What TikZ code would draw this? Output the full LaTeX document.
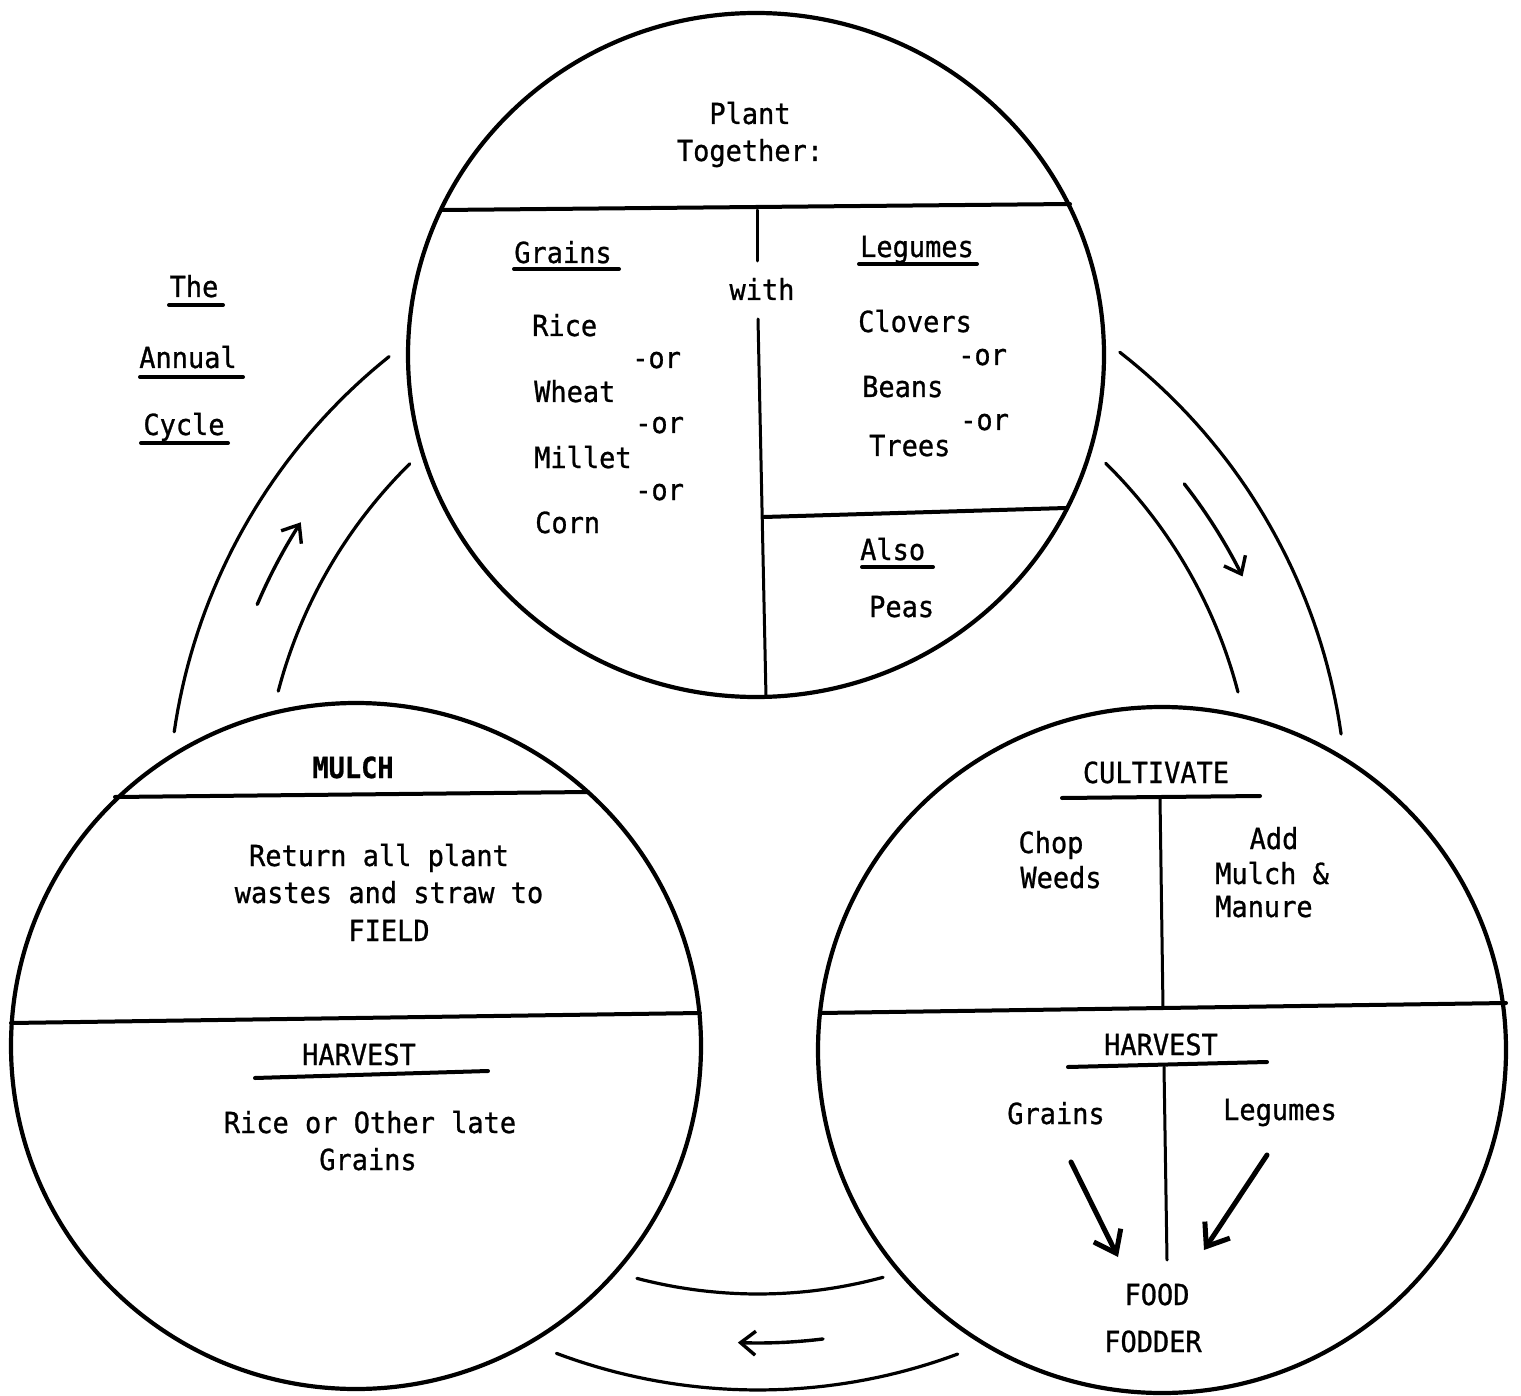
\documentclass[tikz,border=0pt]{standalone}
\usepackage{fontspec}
\newfontfamily\tw[FakeStretch=0.93,FakeBold=0.9]{DejaVu Sans Mono}
\usetikzlibrary{arrows.meta,shapes.geometric}
\begin{document}
\begin{tikzpicture}[x=1pt,y=-1pt,
  ring/.style={draw, line width=4.2pt, ellipse, inner sep=0pt},
  divider/.style={line width=4pt, line cap=round},
  thinline/.style={line width=3pt, line cap=round},
  arcline/.style={line width=3.2pt, line cap=round},
  uline/.style={line width=4pt, line cap=round},
  txt/.style={font=\tw\fontsize{29}{35}\selectfont, inner sep=0pt, anchor=base},
  txtl/.style={txt, anchor=base west},
  cyc/.style={line width=3.4pt, line cap=round, -{Straight Barb[length=15pt,width=24pt,line width=3.4pt]}},
  bigarrow/.style={line width=5pt, line cap=round, -{Straight Barb[length=20pt,width=30pt,line width=5pt]}}
]
\fill[white] (0,0) rectangle (1521,1396);
\useasboundingbox (0,0) rectangle (1521,1396);

% ---------- circles ----------
\node[ring, minimum width=696pt, minimum height=684pt] (topc) at (756,355) {};
\node[ring, minimum width=690pt, minimum height=686pt] (blc) at (356,1046) {};
\node[ring, minimum width=688pt, minimum height=686pt] (brc) at (1162,1050) {};

% ---------- cycle arcs (common centre) ----------
\coordinate (cc) at (758,817);
\draw[arcline] plot[domain=188.3:231.3, samples=40] ({758+590*cos(\x)},{817+590*sin(\x)});
\draw[arcline] plot[domain=194.7:225.4, samples=40] ({758+496*cos(\x)},{817+496*sin(\x)});
\draw[cyc] plot[domain=203:212.8, samples=20] ({758+544*cos(\x)},{817+544*sin(\x)});

\draw[arcline] plot[domain=307.9:351.9, samples=40] ({758+589*cos(\x)},{817+589*sin(\x)});
\draw[arcline] plot[domain=314.5:345.4, samples=40] ({758+496*cos(\x)},{817+496*sin(\x)});
\draw[cyc] plot[domain=322:333.6, samples=20] ({758+541*cos(\x)},{817+541*sin(\x)});

\draw[arcline] plot[domain=69.6:110.6, samples=40] ({758+573*cos(\x)},{817+573*sin(\x)});
\draw[arcline] plot[domain=74.8:104.7, samples=40] ({758+477*cos(\x)},{817+477*sin(\x)});
\draw[cyc] plot[domain=82.9:92.2, samples=20] ({758+526*cos(\x)},{817+526*sin(\x)});

% ---------- title ----------
\node[txt] (the) at (194,297) {The};
\node[txt] (annual) at (188,368) {Annual};
\node[txt] (cycle) at (184,435) {Cycle};
\draw[uline] (169,305) -- (223,305);
\draw[uline] (140,377) -- (243,377);
\draw[uline] (141,443) -- (228,443);

% ---------- top circle ----------
\node[txt] (plant) at (750,124) {Plant};
\node[txt] (together) at (750,161) {Together:};
\draw[divider] (442,210) -- (1070,204);
\draw[thinline] (757,210) -- (757,261);
\node[txt] (with) at (762,300) {with};
\draw[thinline] (758,319) -- (766,697);
\draw[divider] (764,517) -- (1066,508);

\node[txt] (grainsA) at (563,263) {Grains};
\draw[uline] (514,269) -- (619,269);
\node[txt] (legumesA) at (917,257) {Legumes};
\draw[uline] (859,264) -- (977,264);

\node[txtl] (rice) at (532,336) {Rice};
\node[txtl] (or1) at (632,368) {-or};
\node[txtl] (wheat) at (534,402) {Wheat};
\node[txtl] (or2) at (635,433) {-or};
\node[txtl] (millet) at (534,468) {Millet};
\node[txtl] (or3) at (635,500) {-or};
\node[txtl] (corn) at (535,533) {Corn};

\node[txtl] (clovers) at (858,332) {Clovers};
\node[txtl] (or4) at (958,365) {-or};
\node[txtl] (beans) at (862,397) {Beans};
\node[txtl] (or5) at (960,430) {-or};
\node[txtl] (trees) at (869,456) {Trees};

\node[txtl] (also) at (860,560) {Also};
\draw[uline] (862,567) -- (933,567);
\node[txtl] (peas) at (869,617) {Peas};

% ---------- bottom-left circle ----------
\node[txt, font=\tw\bfseries\fontsize{29}{35}\selectfont] (mulch) at (353,778) {MULCH};
\draw[divider] (115,797) -- (588,792);
\node[txt] (ret1) at (379,866) {Return all plant};
\node[txt] (ret2) at (389,903) {wastes and straw to};
\node[txt] (field) at (389,941) {FIELD};
\draw[divider] (11,1023) -- (700,1013);
\node[txt] (harvA) at (359,1065) {HARVEST};
\draw[uline] (255,1078) -- (488,1071);
\node[txt] (late1) at (370,1133) {Rice or Other late};
\node[txt] (late2) at (368,1170) {Grains};

% ---------- bottom-right circle ----------
\node[txt] (cult) at (1156,783) {CULTIVATE};
\draw[uline] (1062,798) -- (1260,796);
\draw[thinline] (1160,798) -- (1163,1008);
\node[txt] (chop) at (1051,853) {Chop};
\node[txt] (weeds) at (1061,888) {Weeds};
\node[txt] (add) at (1274,849) {Add};
\node[txtl] (mulch2) at (1215,884) {Mulch \&};
\node[txtl] (manure) at (1215,917) {Manure};
\draw[divider] (820,1013) -- (1506,1003);

\node[txt] (harvB) at (1161,1055) {HARVEST};
\draw[uline] (1068,1067) -- (1267,1062);
\draw[thinline] (1164,1067) -- (1167,1260);
\node[txt] (grainsB) at (1056,1124) {Grains};
\node[txt] (legumesB) at (1280,1120) {Legumes};
\node[txt] (food) at (1157,1305) {FOOD};
\node[txt] (fodder) at (1153,1352) {FODDER};

\coordinate (ga) at (1071,1162);
\coordinate (gb) at (1118,1257);
\coordinate (la) at (1267,1155);
\coordinate (lb) at (1204,1250);
\draw[bigarrow] (ga) -- (gb);
\draw[bigarrow] (la) -- (lb);
\end{tikzpicture}
\end{document}
